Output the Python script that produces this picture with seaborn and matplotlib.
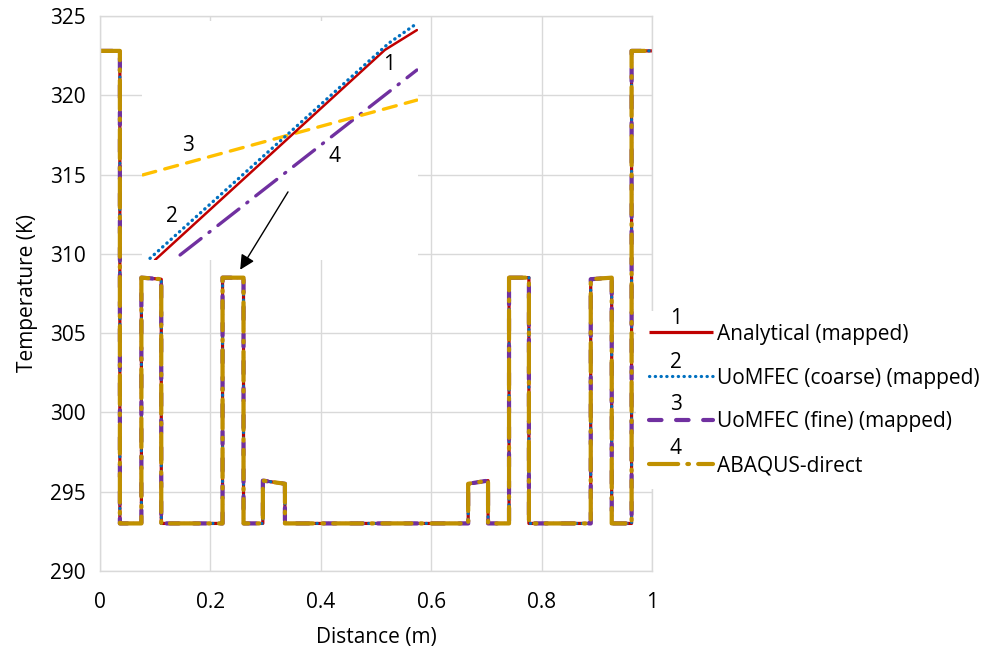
import numpy as np
import pandas as pd
import matplotlib
matplotlib.use("Agg")
import matplotlib.pyplot as plt
import seaborn as sns

# temperature profile along the line (all four models overlap)
distance = [0, 0.036, 0.036, 0.075, 0.075, 0.111, 0.111, 0.222, 0.222, 0.26, 0.26,
            0.295, 0.295, 0.335, 0.335, 0.667, 0.667, 0.703, 0.703, 0.741, 0.741,
            0.777, 0.777, 0.889, 0.889, 0.927, 0.927, 0.963, 0.963, 1.0]
temperature = [322.8, 322.8, 293, 293, 308.5, 308.4, 293, 293, 308.5, 308.5, 293,
               293, 295.7, 295.5, 293, 293, 295.5, 295.7, 293, 293, 308.5,
               308.5, 293, 293, 308.4, 308.5, 293, 293, 322.8, 322.8]

series = ['Analytical (mapped)', 'UoMFEC (coarse) (mapped)',
          'UoMFEC (fine) (mapped)', 'ABAQUS-direct']
colors = ['#C00000', '#0070C0', '#7030A0', '#BF9000']
styles = ['-', (0, (0.1, 1.7)), (0, (3, 3.5)), (0, (7, 2.2, 0.4, 2.2))]
widths = [2.3, 2.3, 3.0, 3.0]

# zoomed inset (normalised inset coordinates)
inset_x = {'1': [0.047, 0.88, 0.996], '2': [0.029, 0.894, 0.996],
           '3': [0.003, 0.996], '4': [0.138, 0.996]}
inset_y = {'1': [0.0, 0.879, 0.962], '2': [0.007, 0.907, 0.99],
           '3': [0.356, 0.669], '4': [0.021, 0.795]}
inset_colors = {'1': '#C00000', '2': '#0070C0', '3': '#FFC000', '4': '#7030A0'}
inset_styles = {'1': '-', '2': (0, (0.1, 1.6)), '3': (0, (4, 2.8)),
                '4': (0, (8, 3, 0.4, 3))}
inset_labels = {'1': (0.895, 0.816), '2': (0.109, 0.18), '3': (0.167, 0.481),
                '4': (0.696, 0.431)}

sns.set_style('white')
plt.rcParams['font.family'] = ['Open Sans', 'DejaVu Sans']
plt.rcParams['text.color'] = 'black'
plt.rcParams['axes.labelcolor'] = 'black'
FS = 15

W, H = 989, 646
fig = plt.figure(figsize=(W / 100, H / 100), dpi=100)
ax = fig.add_axes([100 / W, 1 - 571 / H, 552 / W, 555 / H])

df = pd.DataFrame({'x': distance, 'y': temperature})
for name, c, ls, lw in zip(series, colors, styles, widths):
    sns.lineplot(data=df, x='x', y='y', ax=ax, color=c, linestyle=ls, lw=lw,
                 sort=False, estimator=None, label=name,
                 solid_joinstyle='round', dash_capstyle='round',
                 solid_capstyle='butt')

ax.set_xlim(0, 1)
ax.set_ylim(290, 325)
ax.set_xticks(np.arange(0, 1.01, 0.2))
ax.set_xticklabels(['0', '0.2', '0.4', '0.6', '0.8', '1'])
ax.set_yticks(np.arange(290, 326, 5))
ax.grid(True, color='#D9D9D9', lw=1)
for s in ax.spines.values():
    s.set_color('#D9D9D9')
    s.set_linewidth(1)
ax.tick_params(length=0, labelsize=FS, colors='black', pad=10)
ax.tick_params(axis='x', pad=15)
ax.set_xlabel('Distance (m)', fontsize=FS, labelpad=10)
ax.set_ylabel('Temperature (K)', fontsize=FS, labelpad=9)

leg = ax.legend(loc='center left', bbox_to_anchor=(636 / W, 1 - 400 / H),
                bbox_transform=fig.transFigure, fontsize=FS, frameon=True,
                facecolor='white', edgecolor='none', framealpha=1,
                handlelength=3.1, handletextpad=0.2, labelspacing=1.1,
                borderpad=0.6, borderaxespad=0)
for k, yy in enumerate([318, 362, 405, 448]):
    fig.text(676 / W, 1 - yy / H, str(k + 1), fontsize=FS, ha='center', va='center')

# inset picture
ax_in = fig.add_axes([142 / W, 1 - 260 / H, 276 / W, 239 / H])
ax_in.set_facecolor('white')
ax_in.grid(False)
ax_in.set_xticks([])
ax_in.set_yticks([])
for s in ax_in.spines.values():
    s.set_visible(False)
for key in ['4', '3', '1', '2']:
    ax_in.plot(inset_x[key], inset_y[key], color=inset_colors[key],
               linestyle=inset_styles[key], lw=2.4 if key != '1' else 1.8,
               dash_capstyle='round')
    ax_in.text(*inset_labels[key], key, fontsize=FS, ha='center', va='center')
ax_in.set_xlim(0, 1)
ax_in.set_ylim(0, 1)

ax_in.annotate('', xy=(0.254, 309.0), xycoords=ax.transData,
               xytext=(0.529, 0.285), textcoords='axes fraction',
               arrowprops=dict(arrowstyle='-|>', color='black', lw=1,
                               mutation_scale=22, shrinkA=0, shrinkB=0))

fig.savefig('out.png', dpi=100)
